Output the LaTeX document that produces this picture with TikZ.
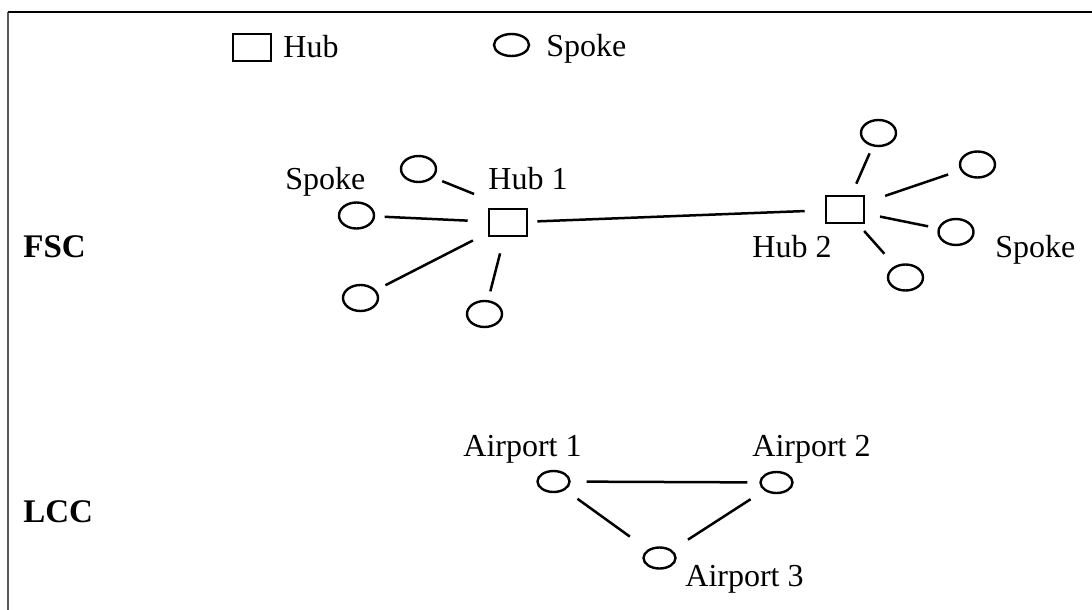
\documentclass[tikz,border=0pt]{standalone}
\usepackage{fontspec}
\setmainfont{Liberation Serif}
\usetikzlibrary{shapes.geometric}
\begin{document}
\begin{tikzpicture}[x=0.5pt,y=-0.5pt,
  lbl/.style={anchor=base west,inner sep=0pt,font=\fontsize{16}{19}\selectfont},
  blbl/.style={lbl,font=\fontsize{16.5}{19}\selectfont\bfseries},
  hubbox/.style={draw,line width=1.3pt,minimum width=19pt,minimum height=13.5pt,inner sep=0pt},
  spk/.style={draw,ellipse,line width=1.2pt,minimum width=17.5pt,minimum height=13pt,inner sep=0pt},
  spkleg/.style={spk,minimum height=11pt},
  apt/.style={draw,ellipse,line width=1.2pt,minimum width=16pt,minimum height=10.5pt,inner sep=0pt},
  link/.style={line width=1.25pt}]
\useasboundingbox (0,0) rectangle (1092,610);
% frame
\coordinate (fbl) at (8,610);
\coordinate (ftl) at (8,12);
\coordinate (ftr) at (1092,12);
\draw[line width=0.75pt,black!65] (fbl) -- (ftl);
\draw[line width=0.9pt] (ftl) -- (ftr);
% legend
\node[hubbox] (leghub) at (252,47.5) {};
\node[lbl] (leghubt) at (283,58) {Hub};
\node[spkleg] (legspk) at (511.5,45) {};
\node[lbl] (legspkt) at (546,57) {Spoke};
% row labels
\node[blbl] (fsc) at (23,257) {FSC};
\node[blbl] (lcc) at (23,522) {LCC};
% FSC hub 1
\node[hubbox] (hub1) at (508,222.5) {};
\node[spk] (s1a) at (418.5,169) {};
\node[spk] (s1b) at (356.5,215.5) {};
\node[spk] (s1c) at (360.5,298) {};
\node[spk] (s1d) at (484.5,314) {};
\node[lbl] (hub1t) at (488,190) {Hub 1};
\node[lbl] (spk1t) at (285,190) {Spoke};
% FSC hub 2
\node[hubbox] (hub2) at (845,209.5) {};
\node[spk] (s2a) at (878.5,133) {};
\node[spk] (s2b) at (977.5,164.5) {};
\node[spk] (s2c) at (956,232) {};
\node[spk] (s2d) at (905.5,277.5) {};
\node[lbl] (hub2t) at (752,257) {Hub 2};
\node[lbl] (spk2t) at (995,257) {Spoke};
% FSC links
\draw[link,shorten <=4.75pt,shorten >=18.3pt] (s1a.-30) -- (hub1.north);
\draw[link,shorten <=4.75pt,shorten >=10pt] (s1b) -- (hub1);
\draw[link,shorten <=5.3pt,shorten >=8.3pt] (s1c) -- (hub1);
\draw[link,shorten <=4.5pt,shorten >=8.3pt] (s1d) -- (hub1);
\draw[link,shorten <=4.5pt,shorten >=10pt] (hub1) -- (hub2);
\draw[link,shorten <=6pt,shorten >=3.75pt] (hub2) -- (s2a);
\draw[link,shorten <=10.5pt,shorten >=6.5pt] (hub2) -- (s2b);
\draw[link,shorten <=7.5pt,shorten >=5pt] (hub2) -- (s2c);
\draw[link,shorten <=4.5pt,shorten >=8pt] (hub2) -- (s2d);
% LCC
\node[apt] (a1) at (553.5,481.5) {};
\node[apt] (a2) at (776.5,482.5) {};
\node[apt] (a3) at (659.5,558) {};
\node[lbl] (a1t) at (463,456) {Airport 1};
\node[lbl] (a2t) at (752,456) {Airport 2};
\node[lbl] (a3t) at (685,586) {Airport 3};
\draw[link,shorten <=8pt,shorten >=6pt] (a1) -- (a2);
\draw[link,shorten <=7.5pt,shorten >=11pt] (a1) -- (a3);
\draw[link,shorten <=8pt,shorten >=9.5pt] (a2) -- (a3);
\end{tikzpicture}
\end{document}
